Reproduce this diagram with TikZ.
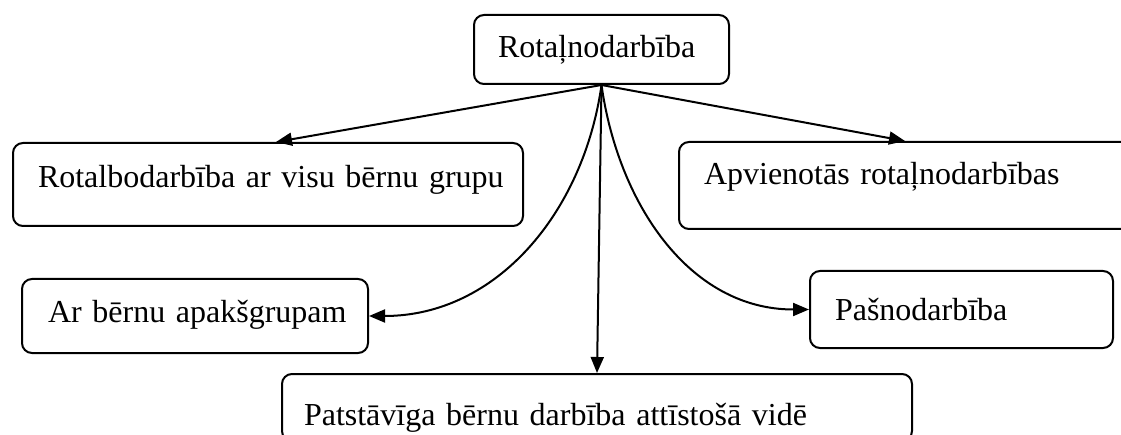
\documentclass[tikz,border=0pt]{standalone}
\usepackage{fontspec}
\setmainfont{Liberation Serif}
\usetikzlibrary{arrows.meta,positioning,calc}

\tikzset{
  blok/.style={draw, rounded corners=10pt, line width=2pt, anchor=north west,
    inner sep=0pt, align=left, font=\fontsize{32}{38}\selectfont,
    execute at begin node={\hspace*{#1}}},
}

\begin{document}
\begin{tikzpicture}[x=1pt, y=1pt, line width=2pt, >={Triangle[length=16pt,width=13pt]}]
  \clip (0,0) rectangle (1121,-435);

  % Boxes
  \node[blok=24pt, text width=255pt, text height=43pt, text depth=26pt] (rot) at (473,-14) {Rotaļnodarbība};
  \node[blok=25pt, text width=510pt, text height=45pt, text depth=38pt] (visu) at (12,-142) {Rotalbodarbība ar visu bērnu grupu};
  \node[blok=25pt, text width=480pt, text height=43pt, text depth=44pt] (apv) at (678,-141) {Apvienotās rotaļnodarbības};
  \node[blok=26pt, text width=346pt, text height=44pt, text depth=30pt] (grupas) at (21,-278) {Ar bērnu apakšgrupam};
  \node[blok=25pt, text width=303pt, text height=50pt, text depth=27pt] (pasn) at (809,-270) {Pašnodarbība};
  \node[blok=22pt, text width=630pt, text height=51pt, text depth=16pt] (vide) at (281,-373) {Patstāvīga bērnu darbība attīstošā vidē};

  % Arrows
  \draw[->] (rot.south) -- ([xshift=8pt]visu.north);
  \draw[->] (rot.south) -- ([xshift=227pt]apv.north west);
  \draw[->] (rot.south) -- (vide.north);
  \draw[->] (rot.south) to[out=-98, in=0] (grupas.east);
  \draw[->] (rot.south) to[out=-82, in=180] (pasn.west);

\end{tikzpicture}
\end{document}
